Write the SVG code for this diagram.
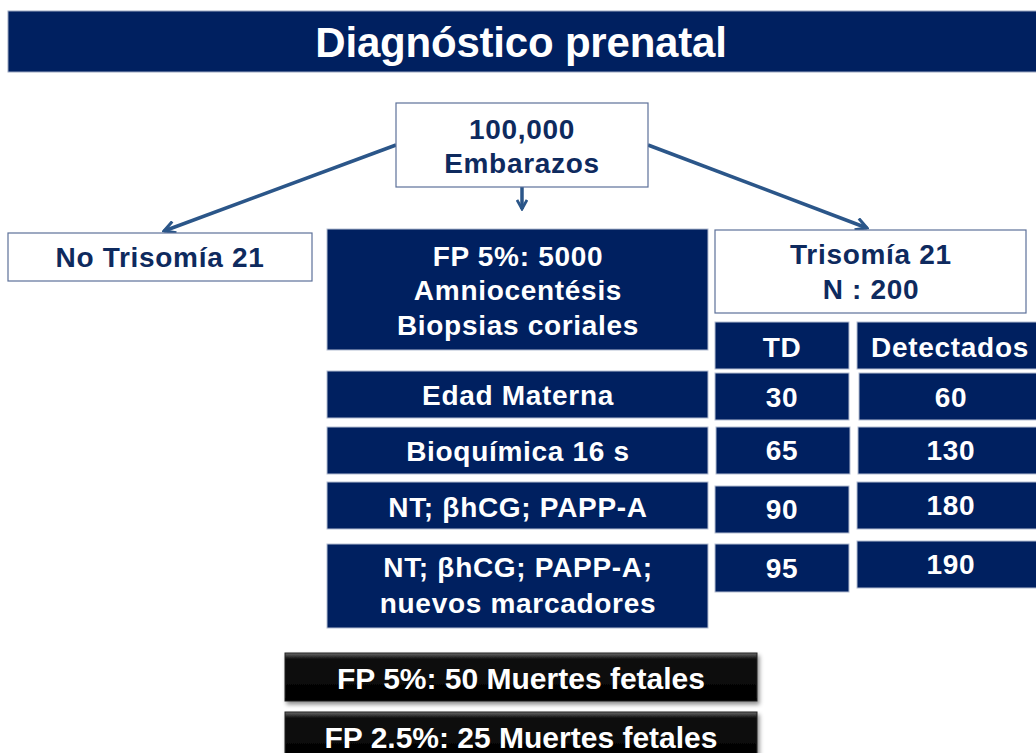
<svg xmlns="http://www.w3.org/2000/svg" width="1036" height="753" viewBox="0 0 1036 753">
<defs>
<style>
.t{font-family:"Liberation Sans",Arial,sans-serif;font-weight:bold;text-anchor:middle}
.w{fill:#ffffff;font-size:28px;letter-spacing:0.7px}
.n{fill:#0e2a5e;font-size:28px;letter-spacing:0.7px}
.dark{fill:#002060;stroke:#b4bdd2;stroke-width:1}
.light{fill:#ffffff;stroke:#5d7199;stroke-width:1.2}
.blk{fill:url(#bg);stroke:#222;stroke-width:1}
.con{stroke:#2b5689;stroke-width:3.5;fill:none}
</style>
<linearGradient id="bg" x1="0" y1="0" x2="0" y2="1">
<stop offset="0" stop-color="#6a6a6a"/>
<stop offset="0.12" stop-color="#111"/>
<stop offset="1" stop-color="#000"/>
</linearGradient>
<filter id="sh" x="-5%" y="-20%" width="110%" height="150%">
<feDropShadow dx="2" dy="3" stdDeviation="2" flood-color="#000" flood-opacity="0.45"/>
</filter>
<marker id="ah" viewBox="0 0 12 12" refX="10" refY="6" markerWidth="12" markerHeight="12" markerUnits="userSpaceOnUse" orient="auto">
<path d="M1,1 L10,6 L1,11" fill="none" stroke="#2b5689" stroke-width="2.8"/>
</marker>
<marker id="ah2" viewBox="0 0 14 14" refX="12" refY="7" markerWidth="14" markerHeight="14" markerUnits="userSpaceOnUse" orient="auto">
<path d="M1,1 L12,7 L1,13" fill="none" stroke="#2b5689" stroke-width="3"/>
</marker>
</defs>
<rect width="1036" height="753" fill="#ffffff"/>

<g id="title">
<rect x="8" y="11" width="1030" height="61" fill="#002060" stroke="#9aa6c0" stroke-width="1"/>
<text class="t" x="521" y="57" fill="#ffffff" font-size="42" letter-spacing="-0.2">Diagnóstico prenatal</text>
</g>

<g id="connectors">
<line class="con" x1="396" y1="145" x2="164" y2="231" marker-end="url(#ah2)"/>
<line class="con" x1="648" y1="145" x2="867" y2="228" marker-end="url(#ah2)"/>
<line class="con" x1="522" y1="187" x2="522" y2="209" stroke-width="3" marker-end="url(#ah)"/>
</g>

<g id="embarazos">
<rect class="light" x="396" y="103" width="252" height="84"/>
<text class="t n" x="522" y="139">100,000</text>
<text class="t n" x="522" y="173">Embarazos</text>
</g>

<g id="no-trisomia">
<rect class="light" x="8" y="233" width="304" height="48"/>
<text class="t n" x="160" y="267">No Trisomía 21</text>
</g>

<g id="fp-5000">
<rect class="dark" x="327" y="229" width="381" height="121"/>
<text class="t w" x="518" y="266">FP 5%: 5000</text>
<text class="t w" x="518" y="300">Amniocentésis</text>
<text class="t w" x="518" y="335">Biopsias coriales</text>
</g>

<g id="trisomia">
<rect class="light" x="715" y="230" width="311" height="83"/>
<text class="t n" x="871" y="264">Trisomía 21</text>
<text class="t n" x="871" y="299">N : 200</text>
</g>

<g id="td-header">
<rect class="dark" x="715" y="322" width="134" height="47"/>
<text class="t w" x="782" y="357">TD</text>
</g>
<g id="det-header">
<rect class="dark" x="857" y="322" width="182" height="47"/>
<text class="t w" x="950" y="357">Detectados</text>
</g>

<g id="edad">
<rect class="dark" x="327" y="371" width="381" height="47"/>
<text class="t w" x="518" y="405">Edad Materna</text>
</g>
<g id="td-30">
<rect class="dark" x="715" y="373" width="134" height="47"/>
<text class="t w" x="782" y="407">30</text>
</g>
<g id="det-60">
<rect class="dark" x="859" y="373" width="180" height="47"/>
<text class="t w" x="951" y="407">60</text>
</g>

<g id="bioquimica">
<rect class="dark" x="327" y="427" width="381" height="47"/>
<text class="t w" x="518" y="461">Bioquímica 16 s</text>
</g>
<g id="td-65">
<rect class="dark" x="716" y="427" width="134" height="47"/>
<text class="t w" x="782" y="460">65</text>
</g>
<g id="det-130">
<rect class="dark" x="858" y="427" width="181" height="47"/>
<text class="t w" x="951" y="460">130</text>
</g>

<g id="nt">
<rect class="dark" x="327" y="482" width="381" height="47"/>
<text class="t w" x="518" y="517">NT; βhCG; PAPP-A</text>
</g>
<g id="td-90">
<rect class="dark" x="715" y="486" width="134" height="47"/>
<text class="t w" x="782" y="519">90</text>
</g>
<g id="det-180">
<rect class="dark" x="857" y="482" width="182" height="47"/>
<text class="t w" x="951" y="515">180</text>
</g>

<g id="nt-nuevos">
<rect class="dark" x="327" y="544" width="381" height="84"/>
<text class="t w" x="518" y="577">NT; βhCG; PAPP-A;</text>
<text class="t w" x="518" y="613">nuevos marcadores</text>
</g>
<g id="td-95">
<rect class="dark" x="715" y="544" width="134" height="48"/>
<text class="t w" x="782" y="578">95</text>
</g>
<g id="det-190">
<rect class="dark" x="857" y="541" width="182" height="47"/>
<text class="t w" x="951" y="574">190</text>
</g>

<g id="fp5-muertes">
<rect class="blk" x="285" y="653" width="472" height="48" filter="url(#sh)"/>
<text class="t" x="521" y="689" fill="#ffffff" font-size="30">FP 5%: 50 Muertes fetales</text>
</g>
<g id="fp25-muertes">
<rect class="blk" x="285" y="712" width="472" height="48" filter="url(#sh)"/>
<text class="t" x="521" y="748" fill="#ffffff" font-size="30">FP 2.5%: 25 Muertes fetales</text>
</g>
</svg>
